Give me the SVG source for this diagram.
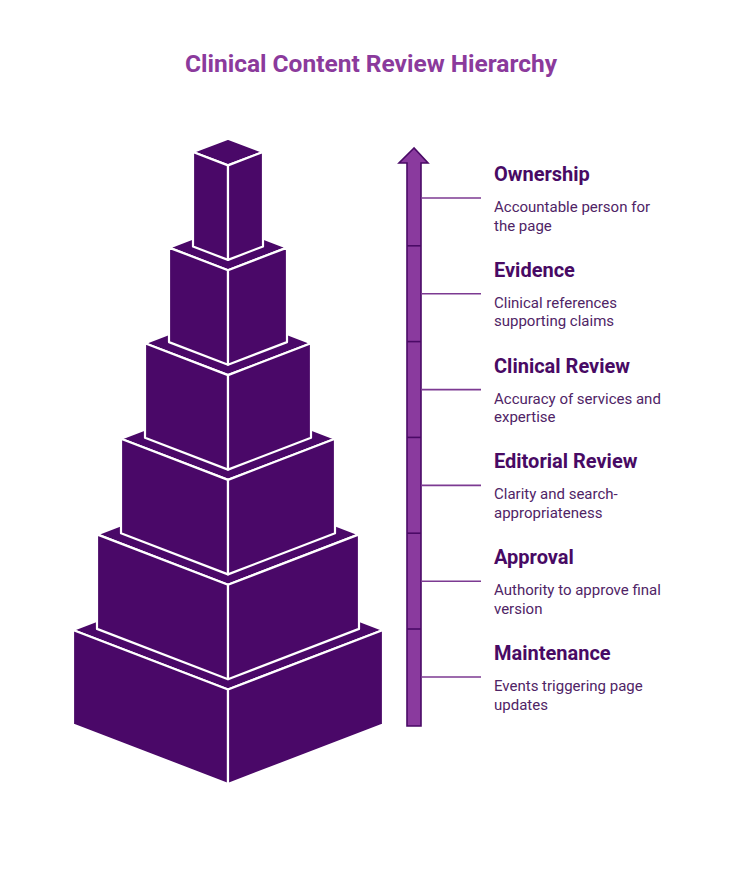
<svg xmlns="http://www.w3.org/2000/svg" width="744" height="882" viewBox="0 0 744 882">
<style>
.face{fill:#4a0868;stroke:#ffffff;stroke-width:2.2;stroke-linejoin:round}
.title{font-family:Roboto,"Liberation Sans",sans-serif;font-weight:bold;font-size:24.5px;fill:#8b3a9c}
.h{font-family:Roboto,"Liberation Sans",sans-serif;font-weight:bold;font-size:20px;fill:#480a64}
.d{font-family:Roboto,"Liberation Sans",sans-serif;font-size:15px;fill:#4f2466}
.conn{stroke:#7c3a92;stroke-width:1.6;fill:none}
.sep{stroke:#4a0a66;stroke-width:1.6}
</style>
<rect width="744" height="882" fill="#ffffff"/>
<text class="title" x="371" y="72" text-anchor="middle">Clinical Content Review Hierarchy</text>

<g id="pyramid">
  <g id="tier6">
    <polygon class="face" points="228,570.5 73,630 228,689.5 383,630"/>
    <polygon class="face" points="73,630 228,689.5 228,784 73,724.5"/>
    <polygon class="face" points="383,630 228,689.5 228,784 383,724.5"/>
  </g>
  <g id="tier5">
    <polygon class="face" points="228,484.1 97,534.4 228,584.7 359,534.4"/>
    <polygon class="face" points="97,534.4 228,584.7 228,679.2 97,628.9"/>
    <polygon class="face" points="359,534.4 228,584.7 228,679.2 359,628.9"/>
  </g>
  <g id="tier4">
    <polygon class="face" points="228,397.7 121,438.8 228,479.9 335,438.8"/>
    <polygon class="face" points="121,438.8 228,479.9 228,574.4 121,533.3"/>
    <polygon class="face" points="335,438.8 228,479.9 228,574.4 335,533.3"/>
  </g>
  <g id="tier3">
    <polygon class="face" points="228,311.3 145,343.2 228,375.1 311,343.2"/>
    <polygon class="face" points="145,343.2 228,375.1 228,469.6 145,437.7"/>
    <polygon class="face" points="311,343.2 228,375.1 228,469.6 311,437.7"/>
  </g>
  <g id="tier2">
    <polygon class="face" points="228,225 169,247.6 228,270.2 287,247.6"/>
    <polygon class="face" points="169,247.6 228,270.2 228,364.7 169,342.1"/>
    <polygon class="face" points="287,247.6 228,270.2 228,364.7 287,342.1"/>
  </g>
  <g id="tier1">
    <polygon class="face" points="228,138.6 193,152 228,165.4 263,152"/>
    <polygon class="face" points="193,152 228,165.4 228,259.9 193,246.5"/>
    <polygon class="face" points="263,152 228,165.4 228,259.9 263,246.5"/>
  </g>
</g>

<g id="arrow">
  <polygon points="414,148 399,163 407,163 407,726 421,726 421,163 428,163" fill="#8a3a9e" stroke="#4a0a66" stroke-width="1.6" stroke-linejoin="miter"/>
  <line class="sep" x1="407" y1="245.8" x2="421" y2="245.8"/>
  <line class="sep" x1="407" y1="341.6" x2="421" y2="341.6"/>
  <line class="sep" x1="407" y1="437.4" x2="421" y2="437.4"/>
  <line class="sep" x1="407" y1="533.2" x2="421" y2="533.2"/>
  <line class="sep" x1="407" y1="629" x2="421" y2="629"/>
</g>

<g id="connectors">
  <line class="conn" x1="421" y1="198" x2="481" y2="198"/>
  <line class="conn" x1="421" y1="293.8" x2="481" y2="293.8"/>
  <line class="conn" x1="421" y1="389.6" x2="481" y2="389.6"/>
  <line class="conn" x1="421" y1="485.4" x2="481" y2="485.4"/>
  <line class="conn" x1="421" y1="581.2" x2="481" y2="581.2"/>
  <line class="conn" x1="421" y1="677" x2="481" y2="677"/>
</g>

<g id="ownership">
  <text class="h" x="494" y="181">Ownership</text>
  <text class="d" x="494" y="212">Accountable person for</text>
  <text class="d" x="494" y="230.5">the page</text>
</g>
<g id="evidence">
  <text class="h" x="494" y="276.8">Evidence</text>
  <text class="d" x="494" y="307.8">Clinical references</text>
  <text class="d" x="494" y="326.3">supporting claims</text>
</g>
<g id="clinical-review">
  <text class="h" x="494" y="372.6">Clinical Review</text>
  <text class="d" x="494" y="403.6">Accuracy of services and</text>
  <text class="d" x="494" y="422.1">expertise</text>
</g>
<g id="editorial-review">
  <text class="h" x="494" y="468.4">Editorial Review</text>
  <text class="d" x="494" y="499.4">Clarity and search-</text>
  <text class="d" x="494" y="517.9">appropriateness</text>
</g>
<g id="approval">
  <text class="h" x="494" y="564.2">Approval</text>
  <text class="d" x="494" y="595.2">Authority to approve final</text>
  <text class="d" x="494" y="613.7">version</text>
</g>
<g id="maintenance">
  <text class="h" x="494" y="660">Maintenance</text>
  <text class="d" x="494" y="691">Events triggering page</text>
  <text class="d" x="494" y="709.5">updates</text>
</g>
</svg>
